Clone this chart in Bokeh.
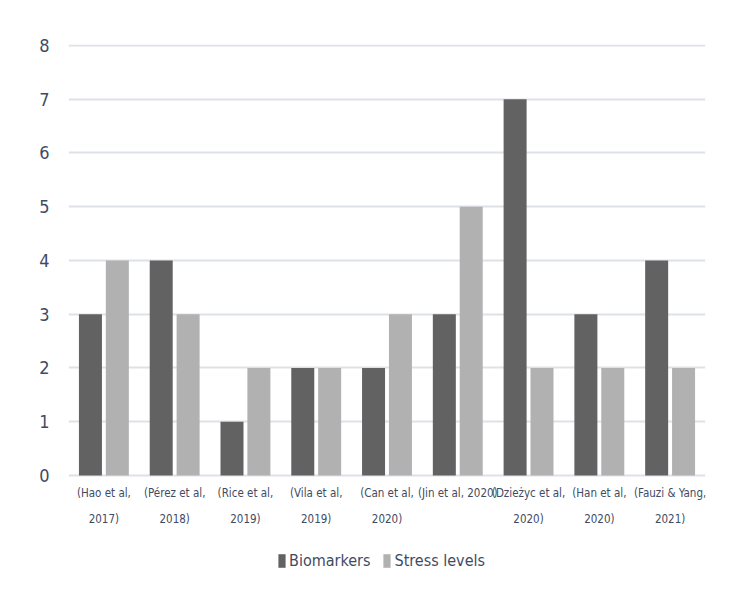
from bokeh.plotting import figure
from bokeh.models import Range1d, FixedTicker, Legend, LegendItem, ColumnDataSource
from bokeh.core.properties import value
from bokeh.embed import file_html
from bokeh.resources import INLINE

studies = ["(Hao et al,\n2017)", "(Pérez et al,\n2018)", "(Rice et al,\n2019)", "(Vila et al,\n2019)",
           "(Can et al,\n2020)", "(Jin et al, 2020)", "(Dzieżyc et al,\n2020)", "(Han et al,\n2020)",
           "(Fauzi & Yang,\n2021)"]
biomarkers = [3, 4, 1, 2, 2, 3, 7, 3, 4]
stress_levels = [4, 3, 2, 2, 3, 5, 2, 2, 2]
y_ticks = [0, 1, 2, 3, 4, 5, 6, 7, 8]

FONT = "DejaVu Sans Condensed"
TXT = "#3f4b63"

idx = list(range(len(studies)))
src = ColumnDataSource(dict(
    x=idx, xb=[i - 0.19 for i in idx], xs=[i + 0.19 for i in idx],
    b=biomarkers, s=stress_levels, lab=studies, zero=[0] * len(idx)))

p = figure(width=720, height=588, output_backend="svg", toolbar_location=None,
           x_range=Range1d(-0.5, 8.5), y_range=Range1d(-2.028, 8.0186),
           min_border_left=68, min_border_right=15, min_border_top=44, min_border_bottom=4)
p.outline_line_color = None

r1 = p.vbar(x="xb", top="b", width=0.325, source=src, fill_color="#626262", line_color=None)
r2 = p.vbar(x="xs", top="s", width=0.325, source=src, fill_color="#b1b1b1", line_color=None)

p.xgrid.visible = False
p.ygrid.grid_line_color = "#dde1e8"
p.ygrid.grid_line_width = 2
p.ygrid.ticker = FixedTicker(ticks=y_ticks)

p.yaxis.ticker = FixedTicker(ticks=y_ticks)
p.yaxis.axis_line_color = None
p.yaxis.major_tick_line_color = None
p.yaxis.minor_tick_line_color = None
p.yaxis.major_label_text_font = FONT
p.yaxis.major_label_text_font_size = "18px"
p.yaxis.major_label_text_color = TXT
p.yaxis.major_label_standoff = 13

p.xaxis.visible = False

p.text(x="x", y="zero", text="lab", source=src, y_offset=11,
       text_align="center", text_baseline="top", text_font=value(FONT),
       text_font_size="11.5px", text_color=TXT, text_line_height=1.85)

legend = Legend(items=[LegendItem(label="Biomarkers", renderers=[r1]),
                       LegendItem(label="Stress levels", renderers=[r2])],
                orientation="horizontal", location=(209, 14),
                label_text_font=FONT, label_text_font_size="16px", label_text_color=TXT,
                glyph_width=9, glyph_height=17, label_standoff=3, spacing=12,
                border_line_color=None, background_fill_alpha=0, padding=4, margin=0)
p.add_layout(legend, "center")

open("out.html", "w").write(file_html(p, INLINE))
